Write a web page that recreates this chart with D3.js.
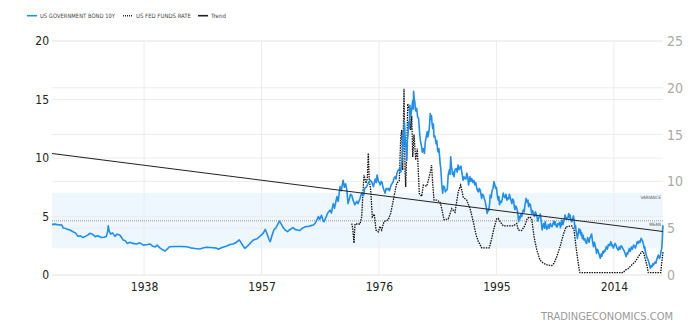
<!DOCTYPE html>
<html><head><meta charset="utf-8">
<script src="https://cdn.jsdelivr.net/npm/d3@7"></script>
<style>body{margin:0;background:#fff}svg{display:block}</style>
</head><body>
<svg id="c" width="688" height="332"></svg>
<script>
const xTickYears=[1938,1957,1976,1995,2014];
const leftTicks=[0,5,10,15,20];
const rightTicks=[0,5,10,15,20,25];
const legendItems=["US GOVERNMENT BOND 10Y","US FED FUNDS RATE","Trend"];
const bandRange=[2.28,7.02];
const meanValue=4.64;
const trendSeries=[[1923.1,10.38],[2021.95,3.72]];
const bondSeries=[
[1923.1,4.33],[1923.6,4.35],[1924.2,4.28],[1924.7,4.27],[1924.9,4.02],[1925.2,4.0],[1925.6,3.9],[1926.0,3.85],[1926.5,3.7],[1926.9,3.6],[1927.3,3.3],[1927.7,3.35],[1928.1,3.2],[1928.5,3.3],[1929.0,3.45],[1929.2,3.56],[1929.6,3.5],[1930.1,3.28],[1930.5,3.35],[1931.1,3.2],[1931.5,3.22],[1931.9,3.3],[1932.1,3.7],[1932.2,4.2],[1932.35,3.75],[1932.6,3.5],[1932.9,3.6],[1933.3,3.3],[1933.6,3.5],[1934.1,3.4],[1934.35,3.2],[1934.6,3.0],[1934.9,2.95],[1935.3,2.7],[1935.7,2.8],[1936.2,2.7],[1936.8,2.65],[1937.3,2.75],[1937.9,2.55],[1938.5,2.6],[1939.0,2.65],[1939.4,2.45],[1939.8,2.4],[1940.1,2.55],[1940.6,2.3],[1941.0,2.15],[1941.4,2.05],[1941.8,2.25],[1942.1,2.42],[1943.0,2.43],[1944.0,2.43],[1944.9,2.42],[1945.5,2.32],[1946.0,2.28],[1946.5,2.25],[1947.0,2.22],[1947.5,2.3],[1948.1,2.37],[1948.7,2.35],[1949.2,2.33],[1949.7,2.3],[1950.0,2.2],[1950.6,2.35],[1951.0,2.42],[1951.4,2.48],[1951.9,2.6],[1952.4,2.65],[1952.9,2.78],[1953.4,3.0],[1953.7,2.75],[1954.0,2.5],[1954.3,2.28],[1954.8,2.5],[1955.3,2.8],[1955.7,3.0],[1956.3,3.1],[1956.7,3.3],[1957.0,3.42],[1957.3,3.6],[1957.6,3.9],[1957.9,3.5],[1958.2,3.05],[1958.4,2.85],[1958.7,3.4],[1959.0,3.85],[1959.3,4.0],[1959.6,4.3],[1959.9,4.6],[1960.2,4.35],[1960.5,4.05],[1960.8,3.85],[1961.2,3.7],[1961.5,3.85],[1961.8,3.95],[1962.1,4.05],[1962.4,3.9],[1962.8,3.85],[1963.2,3.8],[1963.5,3.95],[1963.8,4.05],[1964.2,4.15],[1964.6,4.15],[1964.9,4.2],[1965.4,4.27],[1965.7,4.45],[1965.9,4.65],[1966.2,5.0],[1966.4,4.75],[1966.7,5.1],[1967.0,4.6],[1967.1,4.55],[1967.4,4.9],[1967.7,5.3],[1968.1,5.55],[1968.3,5.3],[1968.6,6.1],[1968.8,5.7],[1969.0,6.2],[1969.2,6.7],[1969.4,6.3],[1969.7,7.55],[1969.9,7.2],[1970.2,8.1],[1970.4,7.5],[1970.6,7.8],[1970.8,7.25],[1971.0,6.1],[1971.2,6.5],[1971.4,6.9],[1971.6,6.8],[1971.8,6.4],[1972.1,6.0],[1972.4,6.3],[1972.6,6.1],[1972.9,6.5],[1973.2,7.0],[1973.5,6.8],[1973.7,7.4],[1974.0,7.55],[1974.3,7.9],[1974.6,8.1],[1974.8,7.98],[1975.1,7.55],[1975.25,7.9],[1975.4,8.2],[1975.55,7.9],[1975.7,8.55],[1975.9,8.0],[1976.05,7.9],[1976.2,7.7],[1976.35,8.0],[1976.5,7.9],[1976.7,7.4],[1976.85,7.2],[1977.0,7.0],[1977.15,7.4],[1977.3,7.3],[1977.5,7.4],[1977.7,7.2],[1977.9,7.6],[1978.1,7.8],[1978.3,7.98],[1978.45,8.3],[1978.6,8.4],[1978.75,8.2],[1978.9,8.7],[1979.05,8.9],[1979.2,9.0],[1979.4,9.1],[1979.55,8.8],[1979.6,9.3],[1979.7,9.7],[1979.8,10.6],[1979.9,12.25],[1980.0,11.0],[1980.1,13.1],[1980.25,11.5],[1980.4,10.8],[1980.5,9.8],[1980.6,11.5],[1980.7,12.0],[1980.8,13.1],[1980.9,12.5],[1981.0,14.5],[1981.15,13.6],[1981.3,14.2],[1981.45,14.9],[1981.55,14.2],[1981.6,15.7],[1981.7,15.1],[1981.8,14.8],[1981.9,14.1],[1982.0,14.0],[1982.1,14.25],[1982.25,13.5],[1982.4,13.4],[1982.5,12.7],[1982.6,12.0],[1982.75,11.3],[1982.9,11.0],[1983.0,10.5],[1983.2,10.8],[1983.35,10.4],[1983.5,11.4],[1983.65,11.8],[1983.8,12.25],[1983.9,11.8],[1984.0,12.0],[1984.15,12.6],[1984.3,13.8],[1984.4,13.3],[1984.5,13.6],[1984.6,12.9],[1984.7,12.5],[1984.8,12.9],[1984.9,11.8],[1985.0,11.9],[1985.1,11.7],[1985.25,11.2],[1985.35,11.5],[1985.5,10.6],[1985.6,10.5],[1985.7,10.8],[1985.8,10.2],[1985.9,9.5],[1986.0,9.1],[1986.15,7.8],[1986.3,7.0],[1986.45,7.6],[1986.6,7.5],[1986.75,7.1],[1986.9,7.25],[1987.05,7.3],[1987.2,8.55],[1987.4,9.0],[1987.5,8.6],[1987.6,10.1],[1987.7,9.4],[1987.8,9.0],[1987.9,8.6],[1988.0,8.8],[1988.15,8.4],[1988.3,9.0],[1988.5,9.1],[1988.65,8.8],[1988.8,9.4],[1988.95,9.0],[1989.1,9.2],[1989.25,9.3],[1989.4,8.8],[1989.6,8.1],[1989.75,8.4],[1989.9,8.25],[1990.05,8.2],[1990.2,8.7],[1990.35,8.4],[1990.5,7.7],[1990.7,8.4],[1990.85,8.0],[1991.0,8.25],[1991.2,7.9],[1991.35,8.1],[1991.5,7.7],[1991.65,7.9],[1991.8,7.5],[1991.95,7.2],[1992.1,7.1],[1992.2,7.4],[1992.35,7.3],[1992.5,6.9],[1992.6,6.55],[1992.75,6.9],[1992.9,6.8],[1993.05,6.5],[1993.2,6.25],[1993.35,5.8],[1993.5,5.27],[1993.65,5.6],[1993.75,5.5],[1993.9,6.1],[1994.0,6.84],[1994.15,6.6],[1994.3,7.2],[1994.45,7.4],[1994.6,7.98],[1994.75,7.7],[1994.85,7.4],[1995.0,7.5],[1995.1,7.0],[1995.2,6.6],[1995.3,6.4],[1995.4,6.7],[1995.5,6.0],[1995.65,6.3],[1995.8,6.2],[1995.95,6.5],[1996.1,7.0],[1996.25,6.7],[1996.4,6.6],[1996.55,6.9],[1996.7,6.4],[1996.85,6.6],[1997.0,6.5],[1997.1,6.9],[1997.2,6.7],[1997.35,6.4],[1997.5,6.1],[1997.65,6.5],[1997.8,6.3],[1997.9,5.8],[1998.0,5.6],[1998.15,5.9],[1998.3,5.7],[1998.45,5.3],[1998.6,4.55],[1998.7,5.0],[1998.8,4.8],[1998.95,5.2],[1999.1,5.0],[1999.25,5.4],[1999.4,5.6],[1999.5,5.4],[1999.6,5.9],[1999.7,6.2],[1999.8,6.55],[1999.9,6.3],[2000.0,6.2],[2000.1,6.4],[2000.2,5.84],[2000.35,6.1],[2000.5,6.0],[2000.6,5.6],[2000.7,5.27],[2000.85,5.5],[2001.0,5.2],[2001.15,5.0],[2001.3,5.4],[2001.45,5.2],[2001.55,5.0],[2001.7,4.6],[2001.8,4.85],[2001.95,5.0],[2002.1,5.2],[2002.25,4.6],[2002.4,3.85],[2002.5,4.1],[2002.65,4.4],[2002.8,4.0],[2002.9,4.55],[2003.05,4.1],[2003.15,3.9],[2003.3,4.1],[2003.4,4.3],[2003.55,4.0],[2003.7,4.4],[2003.85,4.2],[2004.0,4.13],[2004.15,4.4],[2004.3,4.6],[2004.4,4.3],[2004.5,4.55],[2004.65,4.2],[2004.8,4.1],[2004.95,4.4],[2005.1,4.3],[2005.25,4.5],[2005.35,4.05],[2005.5,4.3],[2005.6,4.7],[2005.75,4.3],[2005.85,4.5],[2006.0,4.8],[2006.1,5.13],[2006.25,4.8],[2006.35,4.9],[2006.5,4.85],[2006.6,5.0],[2006.7,5.25],[2006.8,4.9],[2006.9,5.13],[2007.05,4.7],[2007.2,4.55],[2007.35,4.8],[2007.45,5.05],[2007.6,4.6],[2007.7,4.0],[2007.8,4.2],[2007.9,3.7],[2008.0,3.5],[2008.1,3.13],[2008.25,3.6],[2008.35,3.95],[2008.5,3.6],[2008.6,3.85],[2008.7,3.4],[2008.8,3.6],[2008.9,3.1],[2009.0,3.42],[2009.15,3.0],[2009.3,3.1],[2009.45,2.8],[2009.6,2.7],[2009.75,3.2],[2009.85,3.0],[2010.0,2.8],[2010.1,3.13],[2010.25,3.3],[2010.4,3.5],[2010.55,2.9],[2010.7,2.42],[2010.85,2.8],[2010.95,2.6],[2011.1,2.2],[2011.2,1.85],[2011.35,2.2],[2011.5,2.0],[2011.65,1.7],[2011.8,1.43],[2011.95,1.8],[2012.05,1.6],[2012.2,2.0],[2012.3,1.85],[2012.45,2.1],[2012.55,2.0],[2012.7,2.3],[2012.8,2.42],[2012.95,2.2],[2013.1,2.6],[2013.3,2.5],[2013.5,2.85],[2013.65,2.5],[2013.75,2.6],[2013.9,2.3],[2014.0,2.42],[2014.2,2.7],[2014.35,2.55],[2014.5,2.3],[2014.7,2.13],[2014.85,2.4],[2015.0,2.2],[2015.15,2.5],[2015.3,2.42],[2015.5,2.2],[2015.65,2.1],[2015.85,1.8],[2016.0,1.57],[2016.15,1.9],[2016.25,1.8],[2016.4,2.1],[2016.5,2.27],[2016.65,2.0],[2016.85,2.4],[2017.0,2.2],[2017.2,2.56],[2017.35,2.45],[2017.5,2.3],[2017.65,2.6],[2017.8,2.85],[2017.95,2.7],[2018.1,2.9],[2018.25,2.8],[2018.4,3.13],[2018.55,3.0],[2018.65,2.9],[2018.8,2.6],[2018.9,2.27],[2019.0,2.4],[2019.1,2.0],[2019.2,1.8],[2019.3,1.57],[2019.45,1.4],[2019.6,1.2],[2019.75,0.9],[2019.9,0.57],[2020.05,0.8],[2020.15,0.7],[2020.3,0.95],[2020.4,0.85],[2020.55,1.0],[2020.65,1.1],[2020.8,1.0],[2020.9,1.28],[2021.05,1.5],[2021.2,1.7],[2021.35,1.4],[2021.5,1.57],[2021.6,1.9],[2021.75,2.3],[2021.85,3.13],[2021.92,4.2],[2021.95,3.9]
];
const fedSeries=[
[1971.59,5.5],[1971.75,5.0],[1971.96,3.4],[1972.12,5.45],[1972.93,5.45],[1973.2,6.2],[1973.46,9.4],[1973.58,10.7],[1973.9,9.8],[1974.11,10.3],[1974.27,13.0],[1974.43,10.1],[1974.66,9.1],[1974.92,6.2],[1975.24,6.5],[1975.52,4.8],[1975.89,4.6],[1976.17,5.2],[1976.44,4.8],[1976.81,5.7],[1977.51,5.9],[1977.9,6.6],[1978.32,8.0],[1978.87,9.8],[1979.29,10.1],[1979.52,14.8],[1979.68,15.5],[1979.84,11.2],[1980.05,19.9],[1980.21,11.2],[1980.32,9.4],[1980.49,13.0],[1980.65,18.3],[1980.91,17.6],[1981.13,15.5],[1981.3,17.0],[1981.46,12.6],[1981.67,15.0],[1981.94,12.3],[1982.2,13.5],[1982.52,8.7],[1982.91,8.4],[1983.17,9.6],[1983.72,9.5],[1983.98,10.1],[1984.37,11.2],[1984.5,11.75],[1984.69,9.8],[1984.9,8.0],[1985.34,8.0],[1985.87,7.8],[1986.15,7.1],[1986.52,5.9],[1987.22,6.0],[1987.77,7.1],[1988.3,6.7],[1988.83,8.9],[1989.22,9.6],[1989.64,8.3],[1990.19,8.0],[1990.73,7.1],[1991.26,5.7],[1991.7,4.3],[1992.07,3.6],[1992.62,2.9],[1993.43,2.9],[1993.85,2.9],[1994.24,3.9],[1994.61,5.0],[1995.05,6.0],[1995.3,6.05],[1995.58,5.7],[1996.12,5.25],[1997.73,5.25],[1998.28,5.5],[1998.54,4.8],[1999.09,4.75],[1999.62,5.3],[1999.99,6.05],[2000.43,6.2],[2000.71,6.0],[2001.08,4.1],[2001.52,2.7],[2002.05,1.6],[2002.59,1.25],[2003.24,1.07],[2003.95,1.0],[2004.32,1.25],[2004.76,1.95],[2005.29,3.0],[2005.82,4.3],[2006.26,5.15],[2007.18,5.25],[2007.56,4.8],[2007.88,3.0],[2008.09,1.95],[2008.41,0.5],[2008.52,0.25],[2015.53,0.25],[2015.8,0.5],[2016.34,0.7],[2016.89,1.07],[2017.42,1.4],[2017.96,1.95],[2018.51,2.5],[2018.77,2.5],[2019.04,1.8],[2019.32,1.1],[2019.57,0.25],[2021.58,0.25],[2021.74,1.25],[2021.95,2.5]
];

const svg=d3.select("#c");
const L=52,R=663,T=41,B=275;
const x=d3.scaleLinear().domain([1923.1,2021.95]).range([L,R]);
const yL=d3.scaleLinear().domain([0,20]).range([B,T]);
const yR=d3.scaleLinear().domain([0,25]).range([B,T]);

// variance band
svg.append("rect").attr("x",L).attr("width",R-L)
  .attr("y",yL(bandRange[1])).attr("height",yL(bandRange[0])-yL(bandRange[1]))
  .attr("fill","#eef7fe");

// grid
const g=svg.append("g");
leftTicks.forEach(v=>g.append("line").attr("x1",L).attr("x2",R).attr("y1",yL(v)).attr("y2",yL(v)).attr("stroke","#ececec").attr("stroke-width",1));
rightTicks.forEach(v=>g.append("line").attr("x1",L).attr("x2",R).attr("y1",yR(v)).attr("y2",yR(v)).attr("stroke","#ececec").attr("stroke-width",1));
xTickYears.forEach(v=>g.append("line").attr("x1",x(v)).attr("x2",x(v)).attr("y1",T).attr("y2",B).attr("stroke","#ececec").attr("stroke-width",1));

// mean line
svg.append("line").attr("x1",L).attr("x2",R).attr("y1",yL(meanValue)).attr("y2",yL(meanValue))
  .attr("stroke","#b5b5b5").attr("stroke-width",1.6).attr("stroke-dasharray","1,1");
svg.append("text").attr("x",661).attr("y",yL(bandRange[1])+6).attr("text-anchor","end")
  .attr("font-family","DejaVu Sans Condensed, DejaVu Sans").attr("font-size",4.5).attr("fill","#555").text("VARIANCE");
svg.append("text").attr("x",661).attr("y",yL(meanValue)+5.5).attr("text-anchor","end")
  .attr("font-family","DejaVu Sans Condensed, DejaVu Sans").attr("font-size",4.5).attr("fill","#555").text("MEAN");

// axes
const fontL="DejaVu Sans Condensed, DejaVu Sans";
const axL=svg.append("g").attr("transform",`translate(${L},0)`)
  .call(d3.axisLeft(yL).tickValues(leftTicks).tickSize(0).tickPadding(3));
axL.select(".domain").remove();
axL.selectAll("text").attr("font-family",fontL).attr("font-size",12).attr("fill","#222");

const axR=svg.append("g").attr("transform",`translate(${R},0)`)
  .call(d3.axisRight(yR).tickValues(rightTicks).tickSize(0).tickPadding(4));
axR.select(".domain").remove();
axR.selectAll("text").attr("font-family","Liberation Sans Narrow, DejaVu Sans Condensed").attr("font-size",14).attr("fill","#aaa");

const axB=svg.append("g").attr("transform",`translate(0,${B})`)
  .call(d3.axisBottom(x).tickValues(xTickYears).tickFormat(d3.format("d")).tickSize(0).tickPadding(7));
axB.select(".domain").remove();
axB.selectAll("text").attr("font-family",fontL).attr("font-size",12).attr("fill","#222");

// series
const lineL=d3.line().x(d=>x(d[0])).y(d=>yL(d[1]));
const lineR=d3.line().x(d=>x(d[0])).y(d=>yR(d[1]));
svg.append("path").datum(fedSeries).attr("d",lineR).attr("fill","none")
  .attr("stroke","#111").attr("stroke-width",1.3).attr("stroke-dasharray","1.5,1");
svg.append("path").datum(bondSeries).attr("d",lineL).attr("fill","none")
  .attr("stroke","#1e8ef0").attr("stroke-width",1.6).attr("stroke-linejoin","round");
svg.append("path").datum(trendSeries).attr("d",lineL).attr("fill","none")
  .attr("stroke","#222").attr("stroke-width",1.1);

// legend
const lg=svg.append("g");
const lgX=[27,123,198];
const lgW=[75,55,15];
const styles=[{c:"#1e8ef0",d:null},{c:"#222",d:"1,1"},{c:"#222",d:null}];
legendItems.forEach((t,i)=>{
  const ln=lg.append("line").attr("x1",lgX[i]).attr("x2",lgX[i]+10).attr("y1",15.7).attr("y2",15.7)
    .attr("stroke",styles[i].c).attr("stroke-width",1.6);
  if(styles[i].d) ln.attr("stroke-dasharray",styles[i].d);
  lg.append("text").attr("x",lgX[i]+13).attr("y",17.8).attr("font-family",fontL)
    .attr("font-size",6).attr("fill","#444").attr("textLength",lgW[i]).attr("lengthAdjust","spacingAndGlyphs").text(t);
});

// watermark
svg.append("text").attr("x",673).attr("y",320).attr("text-anchor","end")
  .attr("font-family",fontL).attr("font-size",11).attr("fill","#9a9a9a").text("TRADINGECONOMICS.COM");
</script>
</body></html>
